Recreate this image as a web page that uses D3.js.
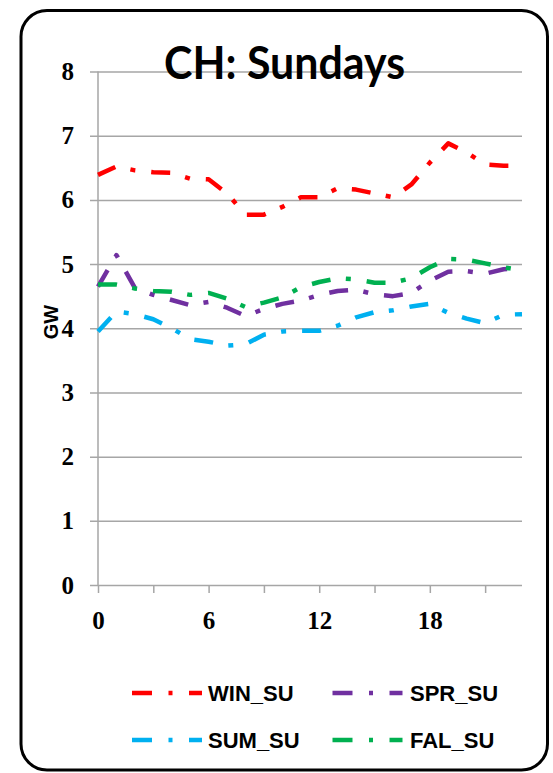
<!DOCTYPE html>
<html>
<head>
<meta charset="utf-8">
<script src="https://cdn.jsdelivr.net/npm/d3@7"></script>
<style>
  html, body { margin: 0; padding: 0; background: #ffffff; }
  svg { display: block; }
</style>
</head>
<body>
<svg id="chart" width="553" height="773"></svg>
<script>
// Hourly Sunday load profiles (GW) by season
const hours = d3.range(0, 24);
const seriesNames = ["WIN_SU", "SPR_SU", "SUM_SU", "FAL_SU"];
const seriesColors = ["#FF0000", "#7030A0", "#00B0F0", "#00B050"];

const winSu = [6.39, 6.52, 6.46, 6.43, 6.42, 6.33, 6.32, 6.10, 5.77, 5.77, 5.89, 6.04,
               6.04, 6.18, 6.16, 6.10, 6.04, 6.24, 6.58, 6.88, 6.74, 6.55, 6.53, 6.53];
const sprSu = [4.65, 5.14, 4.63, 4.52, 4.44, 4.36, 4.41, 4.32, 4.19, 4.30, 4.38, 4.43,
               4.52, 4.58, 4.60, 4.53, 4.50, 4.55, 4.74, 4.88, 4.89, 4.85, 4.92, 4.93];
const sumSu = [3.95, 4.26, 4.22, 4.14, 4.00, 3.83, 3.79, 3.73, 3.75, 3.90, 3.95, 3.96,
               3.96, 4.04, 4.17, 4.25, 4.28, 4.34, 4.38, 4.24, 4.15, 4.08, 4.21, 4.22];
const falSu = [4.68, 4.68, 4.62, 4.58, 4.57, 4.52, 4.55, 4.46, 4.33, 4.40, 4.48, 4.64,
               4.72, 4.78, 4.76, 4.71, 4.71, 4.78, 4.95, 5.08, 5.07, 5.01, 4.95, 4.90];

const yTicks = [0, 1, 2, 3, 4, 5, 6, 7, 8];
const xTicks = [0, 3, 6, 9, 12, 15, 18, 21];
const xLabels = [0, 6, 12, 18];

const seriesValues = [winSu, sprSu, sumSu, falSu];

const svg = d3.select("#chart");
const gridColor = "#A6A6A6";
const dashPattern = "19 15.5 5 16";
const tickFont = "'Liberation Serif', 'DejaVu Serif', serif";

// outer frame
svg.append("rect")
  .attr("x", 21).attr("y", 10.5)
  .attr("width", 526.5).attr("height", 759.5)
  .attr("rx", 26).attr("ry", 26)
  .attr("fill", "#ffffff")
  .attr("stroke", "#000000")
  .attr("stroke-width", 3);

const x = d3.scaleLinear().domain([0, 23]).range([98, 522]);
const y = d3.scaleLinear().domain([0, 8]).range([585, 71.5]);

// horizontal gridlines with short outside ticks
const yAxis = d3.axisLeft(y)
  .tickValues(yTicks)
  .tickSize(-(522 - 90))
  .tickPadding(16)
  .tickFormat(d3.format("d"));

const gy = svg.append("g")
  .attr("transform", "translate(90,0)")
  .call(yAxis);
gy.select(".domain").remove();
gy.selectAll(".tick line")
  .attr("stroke", gridColor)
  .attr("stroke-width", 1.5);
gy.selectAll(".tick text")
  .attr("font-family", tickFont)
  .attr("font-weight", "bold")
  .attr("font-size", 25)
  .attr("fill", "#000");

// category axis along the bottom
const xAxis = d3.axisBottom(x)
  .tickValues(xTicks)
  .tickSize(8)
  .tickPadding(18)
  .tickFormat(d => xLabels.includes(d) ? String(d) : "");

const gx = svg.append("g")
  .attr("transform", "translate(0,585)")
  .call(xAxis);
gx.select(".domain").remove();
gx.selectAll(".tick line")
  .attr("stroke", gridColor)
  .attr("stroke-width", 1.5);
gx.selectAll(".tick text")
  .attr("font-family", tickFont)
  .attr("font-weight", "bold")
  .attr("font-size", 25)
  .attr("fill", "#000");

// vertical value axis line
svg.append("line")
  .attr("x1", x(0)).attr("x2", x(0))
  .attr("y1", y(8)).attr("y2", y(0))
  .attr("stroke", gridColor)
  .attr("stroke-width", 1.5);

// series lines
const line = d3.line()
  .x((d, i) => x(hours[i]))
  .y(d => y(d));

svg.append("g").selectAll("path")
  .data(seriesValues)
  .join("path")
  .attr("d", d => line(d))
  .attr("fill", "none")
  .attr("stroke", (d, i) => seriesColors[i])
  .attr("stroke-width", 4.5)
  .attr("stroke-dasharray", dashPattern)
  .attr("stroke-linejoin", "round")
  .attr("stroke-linecap", "butt");

// title
svg.append("text")
  .attr("x", 164)
  .attr("y", 79)
  .attr("textLength", 241)
  .attr("lengthAdjust", "spacingAndGlyphs")
  .attr("font-family", "Lato, 'Liberation Sans', sans-serif")
  .attr("font-weight", "bold")
  .attr("font-size", 46)
  .attr("fill", "#000")
  .text("CH: Sundays");

// value axis title
svg.append("text")
  .attr("transform", "translate(58,322) rotate(-90)")
  .attr("text-anchor", "middle")
  .attr("font-family", "'Liberation Sans', sans-serif")
  .attr("font-weight", "bold")
  .attr("font-size", 20)
  .attr("fill", "#000")
  .text("GW");

// legend
const legendCols = [132, 332.5];
const legendRows = [693, 740];
const legendTextX = [208, 410];
const legend = svg.append("g");
seriesNames.forEach((name, i) => {
  const col = i % 2, row = Math.floor(i / 2);
  const ly = legendRows[row];
  legend.append("line")
    .attr("x1", legendCols[col]).attr("x2", legendCols[col] + 70)
    .attr("y1", ly).attr("y2", ly)
    .attr("stroke", seriesColors[i])
    .attr("stroke-width", 4.5)
    .attr("stroke-dasharray", "20 16.5 4 16.5");
  legend.append("text")
    .attr("x", legendTextX[col])
    .attr("y", ly + 8)
    .attr("font-family", "'Liberation Sans', sans-serif")
    .attr("font-weight", "bold")
    .attr("font-size", 22)
    .attr("fill", "#000")
    .text(name);
});
</script>
</body>
</html>
